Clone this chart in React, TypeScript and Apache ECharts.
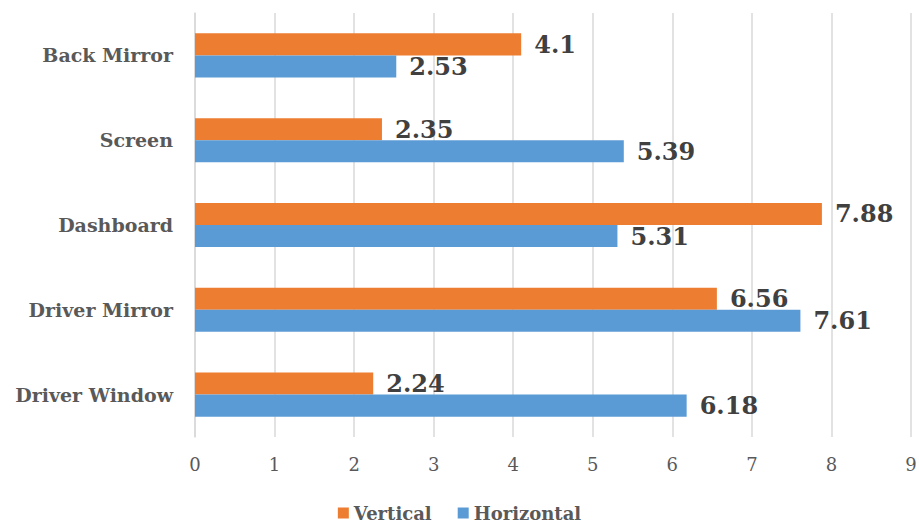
import React, { useEffect, useRef } from "react";
import * as echarts from "echarts";

const categories = ["Driver Window", "Driver Mirror", "Dashboard", "Screen", "Back Mirror"];
const verticalValues = [2.24, 6.56, 7.88, 2.35, 4.1];
const horizontalValues = [6.18, 7.61, 5.31, 5.39, 2.53];
const xTicks = [0, 1, 2, 3, 4, 5, 6, 7, 8, 9];

const SERIF = "DejaVu Serif";

export default function App() {
  const ref = useRef<HTMLDivElement>(null);
  useEffect(() => {
    if (!ref.current) return;
    const chart = echarts.init(ref.current, undefined, { renderer: "svg" });
    const labelStyle = {
      show: true,
      position: "right",
      distance: 13,
      fontFamily: SERIF,
      fontWeight: "bold",
      fontSize: 24,
      color: "#404040",
    };
    chart.setOption({
      animation: false,
      backgroundColor: "#ffffff",
      grid: { left: 195, right: 8, top: 13, bottom: 90, containLabel: false, outerBoundsMode: "none" },
      legend: {
        bottom: 0,
        left: "center",
        icon: "rect",
        itemWidth: 11,
        itemHeight: 11,
        itemGap: 26,
        textStyle: { fontFamily: SERIF, fontWeight: "bold", fontSize: 18, color: "#595959" },
        data: ["Vertical", "Horizontal"],
      },
      xAxis: {
        type: "value",
        min: xTicks[0],
        max: xTicks[xTicks.length - 1],
        interval: 1,
        axisLine: { show: false },
        axisTick: { show: false },
        splitLine: { show: true, lineStyle: { color: "#d9d9d9", width: 1.5 } },
        axisLabel: { fontFamily: SERIF, fontSize: 18, color: "#595959", margin: 18 },
      },
      yAxis: {
        type: "category",
        data: categories,
        axisLine: { show: true, lineStyle: { color: "#d9d9d9", width: 1.5 } },
        axisTick: { show: false },
        axisLabel: { fontFamily: SERIF, fontWeight: "bold", fontSize: 19, color: "#595959", margin: 22 },
      },
      series: [
        {
          name: "Vertical",
          type: "bar",
          data: verticalValues,
          itemStyle: { color: "#ED7D31" },
          barGap: "0%",
          barCategoryGap: "48%",
          label: labelStyle,
        },
        {
          name: "Horizontal",
          type: "bar",
          data: horizontalValues,
          itemStyle: { color: "#5B9BD5" },
          barGap: "0%",
          barCategoryGap: "48%",
          label: labelStyle,
        },
      ],
    });
    return () => chart.dispose();
  }, []);
  return (
    <div
      ref={ref}
      style={{ position: "fixed", left: 0, top: 0, width: 919, height: 527, background: "#fff" }}
    />
  );
}
